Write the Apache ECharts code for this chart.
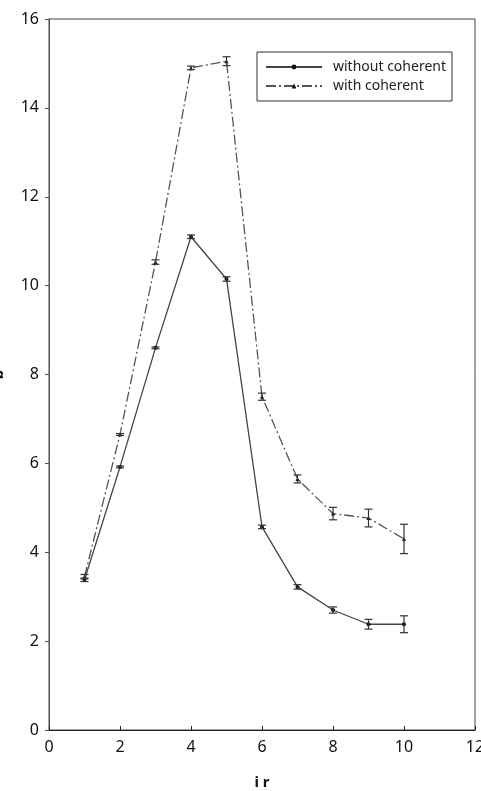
<!DOCTYPE html>
<html>
<head>
<meta charset="utf-8">
<script src="https://cdn.jsdelivr.net/npm/echarts@6/dist/echarts.min.js"></script>
<style>
  html, body { margin: 0; padding: 0; background: #fff; }
  #main { width: 481px; height: 791px; }
</style>
</head>
<body>
<div id="main"></div>
<script>
// data
const xValues = [1, 2, 3, 4, 5, 6, 7, 8, 9, 10];
const withoutCoherent = [3.38, 5.92, 8.6, 11.1, 10.15, 4.57, 3.22, 2.7, 2.38, 2.38];
const withoutErr = [0.04, 0.02, 0.02, 0.04, 0.05, 0.04, 0.05, 0.07, 0.11, 0.19];
const withCoherent = [3.45, 6.65, 10.53, 14.9, 15.05, 7.5, 5.65, 4.87, 4.77, 4.3];
const withErr = [0.05, 0.02, 0.05, 0.04, 0.1, 0.08, 0.09, 0.14, 0.2, 0.33];
const xTicks = [0, 2, 4, 6, 8, 10, 12];
const yTicks = [0, 2, 4, 6, 8, 10, 12, 14, 16];

const chart = echarts.init(document.getElementById('main'));

function pairs(ys) { return xValues.map((x, i) => [x, ys[i]]); }
function bars(ys, es) { return xValues.map((x, i) => [x, ys[i] - es[i], ys[i] + es[i]]); }

function errorBar(params, api) {
  const x = api.value(0);
  const lo = api.coord([x, api.value(1)]);
  const hi = api.coord([x, api.value(2)]);
  const w = 4;
  const style = { stroke: '#333', lineWidth: 1.2 };
  return {
    type: 'group',
    children: [
      { type: 'line', shape: { x1: lo[0], y1: lo[1], x2: hi[0], y2: hi[1] }, style },
      { type: 'line', shape: { x1: lo[0] - w, y1: lo[1], x2: lo[0] + w, y2: lo[1] }, style },
      { type: 'line', shape: { x1: hi[0] - w, y1: hi[1], x2: hi[0] + w, y2: hi[1] }, style }
    ]
  };
}

const font = 'Noto Sans';

chart.setOption({
  animation: false,
  grid: {
    left: 49, right: 6, top: 19, bottom: 61,
    outerBoundsMode: 'none', containLabel: false,
    show: true, borderColor: '#444', borderWidth: 1
  },
  legend: {
    left: 257, top: 52, orient: 'vertical',
    borderColor: '#333', borderWidth: 1, padding: [8, 6, 8, 8],
    itemWidth: 56, itemHeight: 6, itemGap: 5,
    textStyle: { fontFamily: font, fontSize: 14, color: '#222', padding: [0, 0, 0, 6] },
    data: ['without coherent', 'with coherent']
  },
  xAxis: {
    type: 'value', min: 0, max: 12, interval: 2,
    name: 'i r', nameLocation: 'middle', nameGap: 45,
    nameTextStyle: { fontFamily: font, fontSize: 15, fontWeight: 'bold', color: '#111' },
    axisLine: { lineStyle: { color: '#222' } },
    axisTick: { inside: true, length: 4, lineStyle: { color: '#222' } },
    axisLabel: { fontFamily: font, fontSize: 16, color: '#111', margin: 9,
      formatter: v => xTicks.includes(v) ? String(v) : '' },
    splitLine: { show: false }
  },
  yAxis: {
    type: 'value', min: 0, max: 16, interval: 2,
    name: 'b', nameLocation: 'middle', nameGap: 43, nameRotate: 90,
    nameTextStyle: { fontFamily: font, fontSize: 15, fontWeight: 'bold', color: '#111' },
    axisLine: { show: true, lineStyle: { color: '#555' } },
    axisTick: { show: true, length: 4, lineStyle: { color: '#555' } },
    axisLabel: { fontFamily: font, fontSize: 16, color: '#111', margin: 10,
      formatter: v => yTicks.includes(v) ? String(v) : '' },
    splitLine: { show: false }
  },
  series: [
    {
      name: 'without coherent', type: 'line', data: pairs(withoutCoherent),
      symbol: 'circle', symbolSize: 4,
      itemStyle: { color: '#111' },
      lineStyle: { color: '#444', width: 1.3, type: 'solid' },
      z: 3
    },
    {
      name: 'with coherent', type: 'line', data: pairs(withCoherent),
      symbol: 'triangle', symbolSize: 4,
      itemStyle: { color: '#111' },
      lineStyle: { color: '#555', width: 1.3, type: [10, 3, 2, 3] },
      z: 3
    },
    { type: 'custom', renderItem: errorBar, data: bars(withoutCoherent, withoutErr), z: 4, silent: true },
    { type: 'custom', renderItem: errorBar, data: bars(withCoherent, withErr), z: 4, silent: true }
  ]
});
</script>
</body>
</html>
